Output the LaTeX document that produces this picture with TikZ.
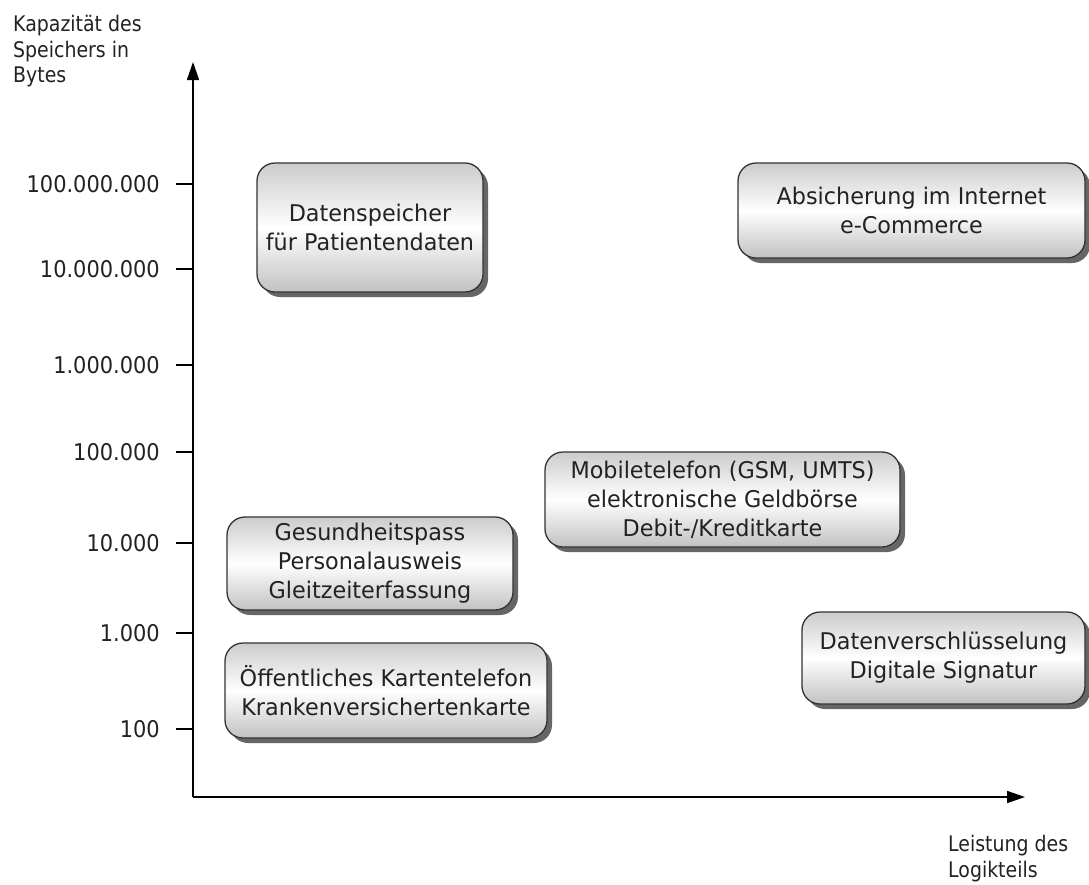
\documentclass[tikz,border=0pt]{standalone}
\usepackage{fontspec}
\setmainfont{DejaVu Sans}
\newfontfamily\boxfont{DejaVu Sans}[FakeStretch=0.97]
\newfontfamily\tickfont{DejaVu Sans}[FakeStretch=0.91]
\newfontfamily\titlefont{DejaVu Sans}[FakeStretch=0.88]
\usetikzlibrary{arrows.meta,shadows}
\definecolor{ink}{HTML}{222222}
\begin{document}
\begin{tikzpicture}[x=1pt,y=-1pt,
  box/.style={draw=black!80, line width=1.3pt, rounded corners=18pt, align=center,
    inner sep=0pt, text=ink, font=\boxfont\fontsize{23}{29}\selectfont,
    top color=black!20, bottom color=black!24, middle color=white,
    drop shadow={shadow xshift=5pt, shadow yshift=-5pt, fill=black, opacity=0.6}},
  axisline/.style={line width=1.6pt, -{Triangle[length=18pt,width=12pt]}},
  tickline/.style={line width=1.3pt},
  ticklabel/.style={anchor=east, inner sep=0pt, text=ink, font=\tickfont\fontsize{23}{27}\selectfont},
  axislabel/.style={align=left, inner sep=0pt, text=ink, font=\titlefont\fontsize{21.5}{25.5}\selectfont}]
  \useasboundingbox (0,0) rectangle (1089,884);

  % axes
  \coordinate (O) at (193,797);
  \coordinate (Ytip) at (193,62);
  \coordinate (Xtip) at (1025,797);
  \draw[axisline] (O) -- (Ytip);
  \draw[axisline] (O) -- (Xtip);

  % ticks on the capacity axis
  \foreach \yy/\lab [count=\i] in {184/100.000.000, 269/10.000.000, 365/1.000.000,
      452/100.000, 543/10.000, 633/1.000, 729/100}{
    \coordinate (tk\i) at (193,\yy);
    \draw[tickline] (tk\i) -- ++(-17,0) coordinate (te\i);
    \node[ticklabel] (tl\i) at ([xshift=-16pt]te\i) {\lab};
  }

  % axis titles
  \node[axislabel, anchor=north west] (ylab) at (13,15) {Kapazität des\\Speichers in\\Bytes};
  \node[axislabel, anchor=north west] (xlab) at (948,835) {Leistung des\\Logikteils};

  % application fields
  \node[box, minimum width=226pt, minimum height=129pt] (b1) at (370,227.5)
    {Datenspeicher\\für Patientendaten};
  \node[box, minimum width=347pt, minimum height=95pt] (b2) at (911.5,210.5)
    {Absicherung im Internet\\e-Commerce};
  \node[box, minimum width=355pt, minimum height=95pt] (b3) at (722.5,499.5)
    {Mobiletelefon (GSM, UMTS)\\elektronische Geldbörse\\Debit-/Kreditkarte};
  \node[box, minimum width=286pt, minimum height=93pt] (b4) at (370,563.5)
    {Gesundheitspass\\Personalausweis\\Gleitzeiterfassung};
  \node[box, minimum width=322pt, minimum height=95pt] (b5) at (386,690.5)
    {Öffentliches Kartentelefon\\Krankenversichertenkarte};
  \node[box, minimum width=283pt, minimum height=92pt] (b6) at (943.5,658)
    {Datenverschlüsselung\\Digitale Signatur};
\end{tikzpicture}
\end{document}
